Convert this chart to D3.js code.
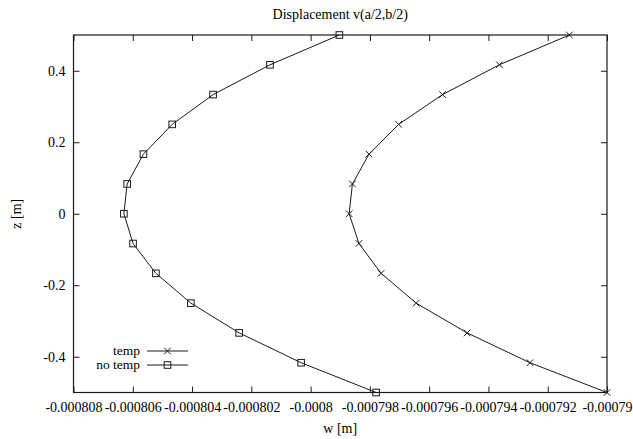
<!DOCTYPE html>
<html>
<head>
<meta charset="utf-8">
<script src="https://cdn.jsdelivr.net/npm/d3@7"></script>
<style>
  html, body { margin: 0; padding: 0; background: #fff; }
  svg { display: block; }
  text { font-family: "Liberation Serif", "DejaVu Serif", serif; fill: #000; }
</style>
</head>
<body>
<svg id="chart" width="633" height="439"></svg>
<script>
// Through-thickness levels z [m]
const zLevels = [0.5, 0.4167, 0.3333, 0.25, 0.1667, 0.0833, 0, -0.0833, -0.1667, -0.25, -0.3333, -0.4167, -0.5];

// Displacement w [m] with thermal load
const wTemp = [-0.00079127, -0.00079363, -0.00079555, -0.00079703, -0.00079803, -0.00079859, -0.0007987,
               -0.00079837, -0.00079762, -0.00079644, -0.00079472, -0.0007926, -0.00079];

// Displacement w [m] without thermal load
const wNoTemp = [-0.00079903, -0.00080137, -0.00080329, -0.00080467, -0.00080564, -0.00080619, -0.0008063,
                 -0.00080599, -0.00080522, -0.00080404, -0.00080241, -0.00080032, -0.00079779];

const xTickValues = [-0.000808, -0.000806, -0.000804, -0.000802, -0.0008, -0.000798, -0.000796, -0.000794, -0.000792, -0.00079];
const xTickLabels = ["-0.000808", "-0.000806", "-0.000804", "-0.000802", "-0.0008", "-0.000798", "-0.000796", "-0.000794", "-0.000792", "-0.00079"];
const yTickValues = [-0.4, -0.2, 0, 0.2, 0.4];
const yTickLabels = ["-0.4", "-0.2", "0", "0.2", "0.4"];

const seriesNames = ["temp", "no temp"];

const svg = d3.select("#chart");
const W = 633, H = 439;
const plot = { left: 73.5, right: 607, top: 35, bottom: 392.5 };
const ink = "#1a1a1a";

svg.append("rect").attr("width", W).attr("height", H).attr("fill", "#fff");

const x = d3.scaleLinear().domain([-0.000808, -0.00079]).range([plot.left, plot.right]);
const y = d3.scaleLinear().domain([-0.5, 0.5]).range([plot.bottom, plot.top]);

const fontSize = 14;
const tick = 6;

function styleAxis(g, showLabels) {
  g.select(".domain").remove();
  g.selectAll(".tick line").attr("stroke", ink).attr("stroke-width", 1);
  g.selectAll(".tick text").attr("font-size", fontSize)
    .attr("font-family", "Liberation Serif, DejaVu Serif, serif").attr("fill", "#000");
  if (!showLabels) g.selectAll(".tick text").remove();
}

// bottom axis (ticks point inward)
svg.append("g").attr("transform", `translate(0,${plot.bottom})`)
  .call(d3.axisBottom(x).tickValues(xTickValues).tickSize(-tick).tickPadding(10)
    .tickFormat((d, i) => xTickLabels[i]))
  .call(g => styleAxis(g, true));

// top mirror ticks
svg.append("g").attr("transform", `translate(0,${plot.top})`)
  .call(d3.axisTop(x).tickValues(xTickValues).tickSize(-tick))
  .call(g => styleAxis(g, false));

// left axis
svg.append("g").attr("transform", `translate(${plot.left},0)`)
  .call(d3.axisLeft(y).tickValues(yTickValues).tickSize(-tick).tickPadding(8)
    .tickFormat((d, i) => yTickLabels[i]))
  .call(g => styleAxis(g, true));

// right mirror ticks
svg.append("g").attr("transform", `translate(${plot.right},0)`)
  .call(d3.axisRight(y).tickValues(yTickValues).tickSize(-tick))
  .call(g => styleAxis(g, false));

// plot border
svg.append("rect")
  .attr("x", plot.left).attr("y", plot.top)
  .attr("width", plot.right - plot.left).attr("height", plot.bottom - plot.top)
  .attr("fill", "none").attr("stroke", ink).attr("stroke-width", 1.2);

// titles
svg.append("text").attr("x", (plot.left + plot.right) / 2).attr("y", 19)
  .attr("text-anchor", "middle").attr("font-size", fontSize).text("Displacement v(a/2,b/2)");
svg.append("text").attr("x", (plot.left + plot.right) / 2).attr("y", 433)
  .attr("text-anchor", "middle").attr("font-size", fontSize).text("w [m]");
svg.append("text").attr("transform", `translate(21,${y(0)}) rotate(-90)`)
  .attr("text-anchor", "middle").attr("font-size", fontSize).text("z [m]");

// markers
function crossPath(cx, cy, r) {
  return `M${cx - r},${cy - r}L${cx + r},${cy + r}M${cx - r},${cy + r}L${cx + r},${cy - r}`;
}
function drawMarker(g, kind, cx, cy) {
  if (kind === "cross") {
    g.append("path").attr("d", crossPath(cx, cy, 3.3))
      .attr("stroke", ink).attr("stroke-width", 1).attr("fill", "none");
  } else {
    g.append("rect").attr("x", cx - 3.3).attr("y", cy - 3.3).attr("width", 6.6).attr("height", 6.6)
      .attr("stroke", ink).attr("stroke-width", 1).attr("fill", "none");
  }
}

const series = [
  { name: seriesNames[0], values: wTemp, marker: "cross" },
  { name: seriesNames[1], values: wNoTemp, marker: "square" }
];

const line = d3.line().x(d => x(d.w)).y(d => y(d.z));

series.forEach(s => {
  const pts = s.values.map((w, i) => ({ w, z: zLevels[i] }));
  const g = svg.append("g");
  g.append("path").datum(pts).attr("d", line)
    .attr("fill", "none").attr("stroke", ink).attr("stroke-width", 1);
  pts.forEach(p => drawMarker(g, s.marker, x(p.w), y(p.z)));
});

// legend
const legend = svg.append("g");
const legendRows = [351, 365];
series.forEach((s, i) => {
  const ly = legendRows[i];
  legend.append("text").attr("x", 140).attr("y", ly + 4)
    .attr("text-anchor", "end").attr("font-size", 13.5).text(s.name);
  legend.append("line").attr("x1", 147).attr("x2", 188).attr("y1", ly).attr("y2", ly)
    .attr("stroke", ink).attr("stroke-width", 1);
  drawMarker(legend, s.marker, 167.5, ly);
});
</script>
</body>
</html>
